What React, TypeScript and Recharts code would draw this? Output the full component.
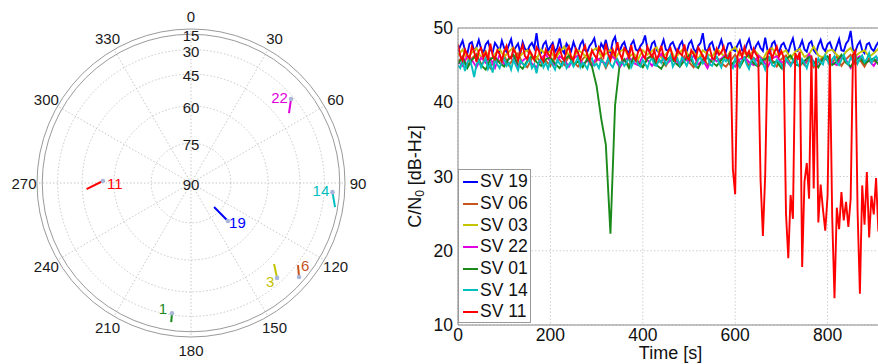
import React from 'react';
import {
  RadarChart,
  Radar,
  PolarGrid,
  PolarAngleAxis,
  PolarRadiusAxis,
  ScatterChart,
  Scatter,
  LineChart,
  Line,
  XAxis,
  YAxis,
  CartesianGrid,
  ReferenceLine,
  Label,
} from 'recharts';

// ---------- sky plot ----------
const AZ_TICKS = [0, 30, 60, 90, 120, 150, 180, 210, 240, 270, 300, 330];
const EL_RINGS = [90, 75, 60, 45, 30, 15];

const SKY_PRN = ['19', '6', '3', '22', '1', '14', '11'];
// marked end of each track (dot + label), then the other end
const TRACK_AZ_MARK = [135.8, 131, 137.8, 50, 188.3, 93.7, 271.3];
const TRACK_EL_MARK = [69.9, 21.6, 33.7, 32, 31.3, 23, 55.1];
const TRACK_AZ_END = [136.2, 127.5, 134.3, 54.5, 188.1, 99.5, 266.7];
const TRACK_EL_END = [77.5, 28.9, 41.1, 38.6, 24.2, 18.5, 47.2];

// ---------- C/N0 time series ----------
const SV_NAMES = ['SV 19', 'SV 06', 'SV 03', 'SV 22', 'SV 01', 'SV 14', 'SV 11'];
const X_TICKS = [0, 200, 400, 600, 800];
const Y_TICKS = [10, 20, 30, 40, 50];

// 5 s samples, 0..920 s
const SV19 = [
  46.8, 47.6, 48.3, 47.0, 46.5, 47.9, 48.1, 46.9, 47.4, 48.4,
  47.2, 46.6, 47.8, 48.2, 47.1, 46.7, 48.0, 47.5, 46.9, 48.3,
  47.3, 46.8, 47.7, 48.5, 46.9, 47.4, 47.9, 46.6, 48.1, 47.2,
  46.9, 47.6, 48.0, 47.3, 49.3, 47.0, 46.7, 47.8, 48.2, 46.9,
  47.5, 48.0, 46.8, 47.3, 48.6, 47.1, 46.6, 47.9, 47.4, 46.9,
  48.1, 47.2, 46.7, 47.8, 48.3, 47.0, 46.8, 47.6, 48.0, 48.6,
  47.1, 46.8, 47.9, 47.3, 48.4, 47.0, 46.7, 48.2, 48.8, 47.2,
  46.9, 47.7, 48.1, 47.0, 46.6, 47.8, 48.3, 47.1, 46.9, 47.6,
  48.0, 49.0, 47.2, 46.8, 47.9, 48.2, 47.0, 46.7, 47.5, 48.4,
  47.1, 46.9, 47.8, 48.1, 47.3, 46.6, 47.7, 48.2, 47.0, 46.8,
  47.9, 48.3, 47.2, 46.7, 47.6, 48.0, 49.3, 47.1, 46.9, 47.8,
  48.1, 47.0, 46.6, 47.5, 48.4, 47.2, 46.8, 47.9, 48.0, 47.1,
  46.9, 47.7, 48.3, 47.0, 46.7, 47.8, 48.5, 47.2, 46.8, 47.6,
  48.1, 47.3, 46.9, 48.7, 47.0, 46.6, 47.9, 48.2, 47.1, 46.8,
  47.7, 48.0, 47.2, 46.7, 47.8, 48.6, 47.0, 46.9, 47.5, 48.3,
  47.1, 46.8, 47.9, 48.2, 47.0, 46.6, 47.7, 48.4, 47.3, 46.9,
  47.8, 48.1, 47.2, 46.7, 47.6, 48.5, 47.0, 46.9, 47.9, 48.3,
  49.6, 47.1, 46.8, 47.7, 48.2, 47.0, 46.6, 47.8, 48.0, 47.2,
  46.9, 47.6, 48.1, 47.0, 47.5,
];

const SV14 = [
  45.0, 44.6, 45.7, 44.2, 45.3, 45.9, 44.8, 43.4, 45.1, 45.6,
  44.7, 45.4, 46.0, 44.5, 45.2, 44.0, 45.8, 45.1, 44.6, 45.5,
  45.9, 44.9, 45.3, 44.4, 45.7, 45.0, 44.3, 45.6, 45.2, 44.8,
  45.4, 45.9, 44.6, 45.1, 43.9, 45.5, 45.8, 44.7, 45.3, 44.5,
  45.6, 45.0, 44.4, 45.7, 45.2, 44.9, 45.8, 44.6, 45.1, 45.5,
  44.8, 45.4, 46.1, 44.7, 45.3, 45.0, 44.5, 45.6, 45.9, 44.9,
  45.2, 44.6, 45.7, 45.4, 44.8, 46.0, 45.1, 44.7, 45.5, 45.8,
  45.0, 45.6, 44.9, 45.3, 46.1, 44.7, 45.4, 45.9, 45.1, 44.8,
  45.7, 45.2, 44.6, 45.5, 46.0, 45.0, 44.9, 45.8, 45.3, 46.2,
  45.1, 45.6, 46.3, 44.8, 45.4, 45.9, 45.0, 46.1, 45.5, 44.9,
  45.7, 46.2, 45.3, 44.8, 45.8, 46.0, 45.2, 45.6, 46.4, 45.1,
  44.9, 45.7, 46.1, 45.3, 44.7, 45.8, 45.5, 46.2, 45.0, 44.6,
  45.9, 45.4, 44.8, 45.7, 46.0, 45.1, 44.5, 45.6, 45.9, 45.2,
  44.9, 45.8, 45.3, 44.4, 45.6, 46.1, 45.0, 44.8, 45.7, 45.4,
  45.1, 44.3, 45.9, 45.5, 44.9, 45.6, 46.0, 45.2, 44.7, 45.8,
  45.3, 44.6, 45.7, 46.1, 45.0, 44.8, 45.9, 45.4, 45.1, 46.3,
  45.6, 44.9, 45.8, 46.2, 45.3, 45.0, 45.7, 46.4, 45.5, 45.1,
  46.0, 45.6, 46.5, 45.2, 45.9, 46.3, 45.4, 45.8, 46.6, 45.3,
  45.9, 46.2, 45.6, 46.4, 45.8,
];

const SV11 = [
  47.8, 46.2, 45.6, 47.1, 46.4, 45.9, 47.5, 46.8, 45.4, 46.9,
  47.3, 46.0, 46.7, 45.7, 47.9, 46.3, 45.8, 47.0, 46.5, 45.5,
  46.9, 47.6, 46.1, 45.9, 47.2, 46.6, 45.6, 46.8, 47.7, 46.2,
  45.8, 47.0, 46.4, 45.7, 47.4, 46.9, 46.0, 45.5, 47.1, 46.5,
  46.1, 47.8, 45.9, 46.7, 47.3, 46.2, 45.6, 46.9, 47.5, 46.0,
  45.7, 47.2, 46.6, 45.8, 46.9, 47.6, 46.3, 45.6, 47.0, 46.4,
  45.9, 47.4, 46.8, 46.1, 47.9, 46.5, 45.7, 47.1, 46.3, 48.1,
  46.6, 45.8, 47.3, 46.9, 46.0, 47.7, 46.2, 45.6, 46.8, 47.2,
  46.4, 45.9, 47.5, 46.7, 46.1, 47.0, 45.7, 46.5, 47.6, 46.2,
  45.8, 46.9, 47.3, 46.0, 45.6, 47.1, 46.6, 46.3, 47.8, 46.1,
  45.7, 47.0, 46.5, 45.9, 47.4, 46.8, 46.2, 45.6, 46.9, 47.3,
  46.0, 45.8, 47.2, 46.4, 46.7, 47.5, 46.1, 45.9, 46.8, 31.0,
  27.6, 46.2, 47.0, 46.1, 47.4, 46.3, 46.9, 45.8, 47.2, 46.5,
  46.0, 29.5, 22.0, 30.2, 46.4, 47.1, 45.9, 46.8, 47.5, 46.2,
  46.9, 46.0, 25.0, 19.0, 27.5, 24.3, 46.6, 45.9, 46.8, 17.8,
  29.3, 31.8, 27.0, 46.3, 28.4, 46.0, 23.8, 28.9, 25.6, 22.7,
  27.4, 46.5, 24.6, 13.6, 25.8, 22.9, 27.9, 24.1, 26.6, 23.2,
  27.0, 46.4, 46.9, 25.3, 14.2, 28.8, 23.5, 30.6, 21.8, 27.4,
  24.9, 29.8, 22.6, 26.3, 25.0,
];

// 10 s samples, 0..920 s
const SV06 = [
  45.4, 46.2, 44.8, 45.9, 46.5, 45.1, 45.7, 44.6, 46.0, 45.5,
  46.3, 45.0, 45.8, 46.6, 45.2, 44.7, 45.9, 46.1, 45.3, 45.6,
  44.9, 46.4, 45.7, 45.0, 46.2, 45.4, 44.8, 45.8, 46.5, 45.1,
  45.6, 46.0, 44.6, 45.9, 46.3, 45.2, 45.7, 45.0, 46.1, 45.5,
  44.8, 45.9, 46.4, 45.3, 45.6, 44.9, 46.0, 45.8, 45.1, 46.2,
  45.4, 44.7, 45.9, 46.3, 45.0, 45.7, 46.1, 45.2, 44.8, 45.6,
  46.4, 45.3, 45.9, 44.9, 46.0, 45.5, 45.1, 46.2, 45.7, 44.8,
  45.8, 46.3, 45.2, 45.6, 46.0, 45.0, 45.9, 44.7, 45.4, 46.1,
  45.6, 45.3, 46.2, 44.9, 45.8, 46.4, 45.1, 45.7, 44.8, 46.0,
  45.5, 45.9, 45.2,
];

const SV03 = [
  46.3, 47.1, 45.8, 46.7, 47.3, 46.0, 46.9, 45.7, 46.5, 47.2,
  46.1, 46.8, 47.4, 45.9, 46.6, 47.0, 46.2, 45.8, 47.1, 46.4,
  46.9, 45.9, 46.7, 47.5, 46.3, 46.0, 47.0, 46.6, 45.8, 46.9,
  47.3, 46.2, 46.5, 47.1, 45.9, 46.8, 47.2, 46.1, 46.6, 45.8,
  47.0, 46.4, 46.9, 47.4, 46.0, 46.5, 47.1, 45.9, 46.7, 47.3,
  46.2, 46.8, 45.8, 47.0, 46.5, 46.1, 47.2, 46.6, 45.9, 46.9,
  47.4, 46.3, 46.7, 46.0, 47.1, 46.4, 45.8, 46.9, 47.3, 46.2,
  46.6, 47.0, 45.9, 46.8, 47.2, 46.1, 46.5, 47.5, 46.3, 46.0,
  46.9, 47.1, 46.4, 45.9, 46.8, 47.3, 46.2, 46.7, 47.0, 46.1,
  46.6, 47.2, 46.4,
];

const SV22 = [
  45.5, 44.9, 46.2, 45.7, 44.7, 46.0, 45.3, 45.9, 44.6, 46.4,
  45.1, 45.8, 46.3, 44.8, 45.6, 46.1, 45.2, 44.7, 45.9, 46.5,
  45.4, 45.0, 46.2, 45.7, 44.8, 45.9, 46.3, 45.1, 45.6, 44.9,
  46.0, 45.5, 45.2, 46.4, 45.8, 44.7, 45.6, 46.1, 45.3, 45.0,
  46.2, 45.7, 44.9, 45.8, 46.5, 45.2, 45.6, 46.0, 44.8, 45.9,
  45.4, 46.3, 45.1, 45.7, 44.6, 46.0, 45.5, 45.9, 46.4, 45.2,
  44.8, 45.8, 46.1, 45.4, 45.0, 46.3, 45.7, 44.7, 45.9, 46.2,
  45.3, 45.6, 44.9, 46.0, 45.8, 45.2, 46.5, 45.5, 44.8, 45.9,
  46.1, 45.4, 45.0, 46.3, 45.7, 44.6, 45.8, 46.2, 45.3, 45.6,
  44.9, 46.0, 45.5,
];

const SV01 = [
  45.2, 46.0, 44.6, 45.7, 46.3, 45.0, 44.4, 45.8, 46.1, 45.3,
  44.8, 45.9, 46.4, 45.1, 44.5, 45.6, 46.2, 45.4, 44.9, 45.8,
  46.0, 45.2, 44.6, 45.7, 46.3, 45.0, 45.5, 44.7, 45.9, 44.8,
  42.2, 37.8, 34.3, 22.3, 39.6, 45.1, 45.8, 44.6, 46.0, 45.3,
  44.7, 45.9, 46.2, 45.0, 44.5, 45.7, 46.1, 45.3, 44.8, 45.6,
  46.3, 45.1, 44.6, 45.8, 46.0, 45.4, 44.9, 45.7, 46.2, 45.0,
  45.6, 44.7, 45.9, 46.4, 45.2, 44.8, 45.7, 46.0, 45.3, 45.5,
  44.6, 45.8, 46.3, 45.1, 44.9, 45.6, 46.1, 45.4, 44.7, 45.9,
  46.2, 45.0, 45.5, 46.4, 45.3, 44.8, 45.7, 46.0, 45.2, 45.6,
  45.9, 45.1, 45.5,
];

const COLORS = ['#0000ff', '#c8541e', '#c4c400', '#e000e0', '#1a8a1a', '#00bfbf', '#ff0000'];
const KEYS = ['sv19', 'sv06', 'sv03', 'sv22', 'sv01', 'sv14', 'sv11'];

const TIME = SV19.map((_, i) => i * 5);
const half = (arr: number[], i: number) => (i % 2 === 0 ? arr[i / 2] : null);
const cnData = TIME.map((t, i) => ({
  t,
  sv19: SV19[i],
  sv06: half(SV06, i),
  sv03: half(SV03, i),
  sv22: half(SV22, i),
  sv01: half(SV01, i),
  sv14: SV14[i],
  sv11: SV11[i],
}));

// ---------- layout ----------
const SKY_CX = 191;
const SKY_CY = 183;
const SKY_R = 154;
const SKY_W = 390;
const SKY_H = 364;
const deg = Math.PI / 180;

// label offset from the marked dot, per track
const LABEL_OFF = [
  [9.5, 2], [6, -11], [-7, 4], [-11.5, -2], [-9, -5], [-11.5, -2], [12, 2],
];

const toXY = (az: number, el: number) => ({
  x: Math.cos(el * deg) * Math.sin(az * deg),
  y: Math.cos(el * deg) * Math.cos(az * deg),
});

const tracks = SKY_PRN.map((prn, i) => [
  { ...toXY(TRACK_AZ_MARK[i], TRACK_EL_MARK[i]), mark: true, prn, idx: i },
  { ...toXY(TRACK_AZ_END[i], TRACK_EL_END[i]), mark: false, prn, idx: i },
]);

const radarData = AZ_TICKS.map((a) => ({ az: a, r: 0 }));
const ringCos = EL_RINGS.map((e) => Math.cos(e * deg));

const AngleTick = (props: any) => {
  const a = props.payload.coordinate * deg;
  const r = SKY_R + 13;
  return (
    <text
      x={SKY_CX + r * Math.cos(a)}
      y={SKY_CY - r * Math.sin(a)}
      textAnchor="middle"
      dominantBaseline="central"
      fontSize={15}
      fill="#1a1a1a"
    >
      {String(props.payload.value)}
    </text>
  );
};

const RadiusTick = (props: any) => {
  const el = Math.round(Math.acos(Math.min(1, props.payload.value)) / deg);
  return (
    <text x={props.x} y={props.y + 1.5} textAnchor="middle" dominantBaseline="central" fontSize={15} fill="#1a1a1a">
      {el}
    </text>
  );
};

const TrackShape = (props: any) => {
  const { cx, cy, payload } = props;
  if (!payload.mark) return <g />;
  const [dx, dy] = LABEL_OFF[payload.idx];
  return (
    <g>
      <circle cx={cx} cy={cy} r={2.3} fill="#a9b6d8" />
      <text
        x={cx + dx}
        y={cy + dy}
        textAnchor="middle"
        dominantBaseline="central"
        fontSize={15}
        fill={COLORS[payload.idx]}
      >
        {payload.prn}
      </text>
    </g>
  );
};

const YTitle = (props: any) => {
  const { viewBox } = props;
  const x = viewBox.x + 17;
  const y = viewBox.y + viewBox.height / 2;
  return (
    <text
      x={x}
      y={y}
      transform={`rotate(-90, ${x}, ${y})`}
      textAnchor="middle"
      dominantBaseline="central"
      fontSize={18}
      fill="#111"
    >
      C/N
      <tspan dy={5} fontSize={12}>0</tspan>
      <tspan dy={-5}> [dB-Hz]</tspan>
    </text>
  );
};

export default function App() {
  return (
    <div
      style={{
        position: 'fixed',
        left: 0,
        top: 0,
        width: 878,
        height: 364,
        overflow: 'hidden',
        background: '#fff',
        fontFamily: '"Liberation Sans", Arial, sans-serif',
      }}
    >
      {/* sky plot grid and labels */}
      <div style={{ position: 'absolute', left: 0, top: 0 }}>
        <RadarChart
          width={SKY_W}
          height={SKY_H}
          data={radarData}
          cx={SKY_CX}
          cy={SKY_CY}
          innerRadius={0}
          outerRadius={SKY_R}
          startAngle={90}
          endAngle={-270}
        >
          <PolarGrid
            gridType="circle"
            polarRadius={ringCos.slice(1, 5).map((c) => c * SKY_R)}
            polarAngles={AZ_TICKS.map((a) => 90 - a)}
            stroke="#c8c8c8"
            strokeDasharray="1.5 2"
          />
          <PolarGrid
            gridType="circle"
            polarRadius={[SKY_R, ringCos[5] * SKY_R]}
            polarAngles={[]}
            radialLines={false}
            stroke="#9a9a9a"
          />
          <PolarAngleAxis dataKey="az" axisLine={false} tickLine={false} tick={<AngleTick />} />
          <PolarRadiusAxis
            angle={90}
            type="number"
            domain={[0, 1]}
            ticks={ringCos}
            axisLine={false}
            tickLine={false}
            tick={<RadiusTick />}
          />
          <Radar dataKey="r" stroke="none" fill="none" isAnimationActive={false} />
        </RadarChart>
      </div>

      {/* satellite tracks */}
      <div style={{ position: 'absolute', left: 0, top: 0 }}>
        <ScatterChart
          width={SKY_W}
          height={SKY_H}
          margin={{
            top: SKY_CY - SKY_R,
            left: SKY_CX - SKY_R,
            right: SKY_W - SKY_CX - SKY_R,
            bottom: SKY_H - SKY_CY - SKY_R,
          }}
        >
          <XAxis type="number" dataKey="x" domain={[-1, 1]} hide height={0} allowDataOverflow />
          <YAxis type="number" dataKey="y" domain={[-1, 1]} hide width={0} allowDataOverflow />
          {tracks.map((trk, i) => (
            <Scatter
              key={SKY_PRN[i]}
              data={trk}
              line={{ stroke: COLORS[i], strokeWidth: 2 }}
              lineType="joint"
              shape={<TrackShape />}
              isAnimationActive={false}
            />
          ))}
        </ScatterChart>
      </div>

      {/* C/N0 vs time */}
      <div style={{ position: 'absolute', left: 398, top: 0 }}>
        <LineChart width={490} height={364} data={cnData} margin={{ top: 28, right: 5, bottom: 0, left: 0 }}>
          <CartesianGrid stroke="#cfcfcf" strokeDasharray="1.5 2" />
          <XAxis
            dataKey="t"
            type="number"
            domain={[0, 920]}
            ticks={X_TICKS}
            allowDataOverflow
            height={39}
            tickLine={false}
            tickSize={4}
            tickMargin={0}
            axisLine={{ stroke: '#8a8a8a' }}
            tick={{ fontSize: 17.5, fill: '#111' }}
          >
            <Label value="Time [s]" position="insideBottom" offset={5} fontSize={18} fill="#111" />
          </XAxis>
          <YAxis
            type="number"
            domain={[10, 50]}
            ticks={Y_TICKS}
            allowDataOverflow
            width={60}
            tickLine={false}
            tickSize={4}
            tickMargin={1}
            axisLine={{ stroke: '#8a8a8a' }}
            tick={{ fontSize: 17.5, fill: '#111' }}
          >
            <Label content={<YTitle />} />
          </YAxis>
          <ReferenceLine y={50} stroke="#8a8a8a" />
          {KEYS.map((k, i) => (
            <Line
              key={k}
              dataKey={k}
              name={SV_NAMES[i]}
              stroke={COLORS[i]}
              strokeWidth={1.9}
              strokeLinejoin="miter"
              dot={false}
              connectNulls
              isAnimationActive={false}
            />
          ))}
        </LineChart>
      </div>

      {/* legend */}
      <div
        style={{
          position: 'absolute',
          left: 458,
          top: 169,
          width: 73,
          height: 154,
          boxSizing: 'border-box',
          border: '1px solid #9a9a9a',
          background: '#fff',
          paddingTop: 1,
        }}
      >
        {SV_NAMES.map((n, i) => (
          <div key={n} style={{ height: 21.7, display: 'flex', alignItems: 'center', fontSize: 17.5, color: '#111' }}>
            <span style={{ display: 'inline-block', width: 15, height: 2, background: COLORS[i], marginLeft: 4, marginRight: 2 }} />
            <span>{n}</span>
          </div>
        ))}
      </div>
    </div>
  );
}
